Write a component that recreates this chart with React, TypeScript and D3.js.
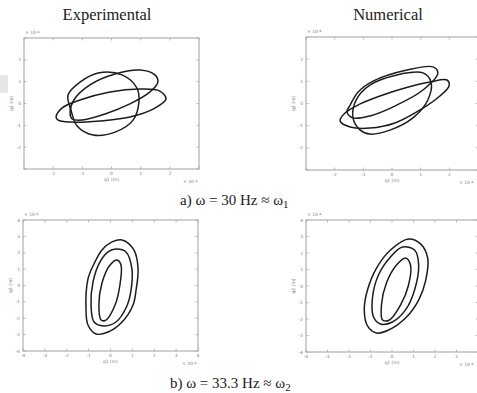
import React from 'react';
import * as d3 from 'd3';

type Pt = [number, number];

// phase portraits, q1 vs q2 in units of 1e-4 m
// a) 30 Hz, experimental
const exp30Round: Pt[] = [
  [-1.49, 0.39], [-1.08, 0.98], [-0.46, 1.4], [0.36, 1.31], [0.87, 0.71], [0.94, 0.07],
  [0.74, -0.76], [0.12, -1.31], [-0.63, -1.44], [-1.18, -1.03], [-1.39, -0.3],
];
const exp30Tilt: Pt[] = [
  [-1.42, -0.39], [-1.29, 0.16], [-0.74, 0.85], [0.12, 1.35], [0.98, 1.53], [1.49, 1.31],
  [1.59, 0.98], [1.32, 0.53], [0.63, -0.02], [-0.22, -0.48], [-1.01, -0.76], [-1.35, -0.71],
];
const exp30Flat: Pt[] = [
  [-1.9, -0.62], [-1.7, -0.21], [-1.08, 0.16], [-0.05, 0.53], [0.98, 0.66], [1.66, 0.57],
  [1.87, 0.21], [1.49, -0.21], [0.63, -0.62], [-0.39, -0.8], [-1.42, -0.85], [-1.83, -0.76],
];

// a) 30 Hz, numerical
const num30Long: Pt[] = [
  [-1.81, -0.79], [-1.64, -0.43], [-1.11, -0.02], [-0.42, 0.34], [0.45, 0.7], [1.32, 0.97],
  [1.92, 1.06], [1.99, 0.79], [1.67, 0.34], [0.98, -0.29], [0.1, -0.88], [-0.77, -1.11], [-1.46, -1.06],
];
const num30Round: Pt[] = [
  [-1.11, -1.2], [-1.36, -0.65], [-1.25, 0.16], [-0.77, 0.83], [0.17, 1.29], [1.08, 1.38],
  [1.36, 0.97], [1.25, 0.16], [0.73, -0.65], [-0.07, -1.2], [-0.77, -1.38],
];
const num30Upper: Pt[] = [
  [-1.46, -0.07], [-1.18, 0.52], [-0.66, 1.01], [0.52, 1.51], [1.43, 1.65], [1.6, 1.38],
  [1.08, 0.61], [0.17, -0.07], [-0.77, -0.56], [-1.36, -0.65], [-1.57, -0.38],
];

// b) 33.3 Hz, experimental
const exp33Outer: Pt[] = [
  [0.53, 2.78], [1.07, 2.17], [1.26, 1.01], [1.17, -0.27], [1.03, -1.19], [0.53, -2.23], [-0.11, -2.84],
  [-0.66, -2.96], [-1.03, -2.41], [-1.12, -1.5], [-1.03, 0.4], [-0.71, 1.44], [-0.39, 2.17], [0.07, 2.66],
];
const exp33Middle: Pt[] = [
  [0.25, 2.23], [0.71, 2.05], [0.98, 1.01], [0.94, -0.27], [0.75, -1.25], [0.25, -2.23],
  [-0.3, -2.47], [-0.75, -2.23], [-0.89, -1.19], [-0.8, 0.21], [-0.48, 1.44], [-0.11, 2.05],
];
const exp33Inner: Pt[] = [
  [0.3, 1.56], [0.48, 1.25], [0.43, 0.03], [0.21, -1.19], [-0.21, -2.11],
  [-0.43, -2.11], [-0.53, -1.19], [-0.39, 0.15], [-0.02, 1.25],
];

// b) 33.3 Hz, numerical
const num33Outer: Pt[] = [
  [0.77, 2.85], [1.33, 2.55], [1.66, 1.7], [1.57, 0.36], [1.24, -0.85], [0.63, -1.94], [-0.16, -2.67],
  [-0.72, -2.85], [-1.14, -2.42], [-1.29, -1.45], [-1.14, -0.24], [-0.72, 1.09], [-0.07, 2.18],
];
const num33Middle: Pt[] = [
  [0.49, 2.36], [1.05, 2.18], [1.24, 1.27], [1.05, -0.24], [0.63, -1.45], [0.02, -2.18],
  [-0.54, -2.3], [-0.86, -1.88], [-0.91, -0.73], [-0.63, 0.67], [-0.07, 1.76],
];
const num33Inner: Pt[] = [
  [0.63, 1.7], [0.86, 1.27], [0.77, 0.06], [0.4, -1.15], [-0.12, -2.06],
  [-0.44, -2.06], [-0.49, -1.15], [-0.26, 0.18], [0.21, 1.27],
];

const ticksA = [-3, -2, -1, 0, 1, 2, 3];
const labelsA = [-2, -1, 0, 1, 2];
const ticksB = [-4, -3, -2, -1, 0, 1, 2, 3, 4];
const labelsB = [-4, -3, -2, -1, 0, 1, 2, 3, 4];
// right-hand panel is cut at the page edge, so its last x label is not shown
const labelsBx = [-4, -3, -2, -1, 0, 1, 2, 3];

const columnTitles = ['Experimental', 'Numerical'];

const panels = [
  { id: 'e30', box: [24, 199, 38, 169], lim: 3, ticks: ticksA, xLabels: labelsA, yLabels: labelsA, loops: [exp30Round, exp30Tilt, exp30Flat] },
  { id: 'n30', box: [306, 478, 37, 170], lim: 3, ticks: ticksA, xLabels: labelsA, yLabels: labelsA, loops: [num30Long, num30Round, num30Upper] },
  { id: 'e33', box: [23, 198, 220, 351], lim: 4, ticks: ticksB, xLabels: labelsB, yLabels: labelsB, loops: [exp33Outer, exp33Middle, exp33Inner] },
  { id: 'n33', box: [306, 478, 220, 352], lim: 4, ticks: ticksB, xLabels: labelsBx, yLabels: labelsB, loops: [num33Outer, num33Middle, num33Inner] },
];

const tickFont = { fontFamily: 'DejaVu Sans', fontSize: 4.5, fill: '#808080' };

function Panel({ box, lim, ticks, xLabels, yLabels, loops }: any) {
  const [x0, x1, y0, y1] = box;
  const x = d3.scaleLinear().domain([-lim, lim]).range([x0, x1]);
  const y = d3.scaleLinear().domain([-lim, lim]).range([y1, y0]);
  const line = d3
    .line<Pt>()
    .x((d) => x(d[0]))
    .y((d) => y(d[1]))
    .curve(d3.curveCatmullRomClosed.alpha(0.5));
  const tl = 2.5;
  // exponent note sits under the lower right corner, kept inside the page
  const expX = Math.min(x1, 475) - 16;

  return (
    <g>
      <rect x={x0} y={y0} width={x1 - x0} height={y1 - y0} fill="#fff" stroke="#a0a0a0" strokeWidth={1} />
      {ticks.map((t: number) => (
        <g key={'t' + t} stroke="#a8a8a8" strokeWidth={0.8}>
          <line x1={x(t)} x2={x(t)} y1={y1} y2={y1 - tl} />
          <line x1={x(t)} x2={x(t)} y1={y0} y2={y0 + tl} />
          <line x1={x0} x2={x0 + tl} y1={y(t)} y2={y(t)} />
          <line x1={x1} x2={x1 - tl} y1={y(t)} y2={y(t)} />
        </g>
      ))}
      {xLabels.map((t: number) => (
        <text key={'xl' + t} x={x(t)} y={y1 + 6} textAnchor="middle" {...tickFont}>{t}</text>
      ))}
      {yLabels.map((t: number) => (
        <text key={'yl' + t} x={x0 - 3} y={y(t) + 1.5} textAnchor="end" {...tickFont}>{t}</text>
      ))}
      <text x={(x0 + x1) / 2} y={y1 + 12} textAnchor="middle" {...tickFont}>q1 (m)</text>
      <text transform={`translate(${x0 - 11},${(y0 + y1) / 2}) rotate(-90)`} textAnchor="middle" {...tickFont}>q2 (m)</text>
      <text x={x0 + 1} y={y0 - 4} {...tickFont}>× 10<tspan dy={-1.5} fontSize={3.5}>-4</tspan></text>
      <text x={expX} y={y1 + 14} {...tickFont}>× 10<tspan dy={-1.5} fontSize={3.5}>-4</tspan></text>
      {loops.map((l: Pt[], i: number) => (
        <path key={i} d={line(l) || ''} fill="none" stroke="#1c1c1c" strokeWidth={1.5} strokeLinejoin="round" />
      ))}
    </g>
  );
}

export default function App() {
  const serif = 'Liberation Serif';
  return (
    <svg width={477} height={393} style={{ position: 'absolute', left: 0, top: 0, background: '#fff' }}>
      <rect x={0} y={0} width={477} height={393} fill="#fff" />
      <rect x={0} y={75} width={8} height={18} fill="#e6e6e6" />
      <text x={107} y={20} textAnchor="middle" fontFamily={serif} fontSize={16.5} fill="#222">{columnTitles[0]}</text>
      <text x={388} y={20} textAnchor="middle" fontFamily={serif} fontSize={16.5} fill="#222">{columnTitles[1]}</text>
      {panels.map((p) => (
        <Panel key={p.id} {...p} />
      ))}
      <text x={180} y={205} fontFamily={serif} fontSize={15} fill="#222">
        a) ω = 30 Hz ≈ ω<tspan dy={3} fontSize={11}>1</tspan>
      </text>
      <text x={170} y={388} fontFamily={serif} fontSize={15} fill="#222">
        b) ω = 33.3 Hz ≈ ω<tspan dy={3} fontSize={11}>2</tspan>
      </text>
    </svg>
  );
}
